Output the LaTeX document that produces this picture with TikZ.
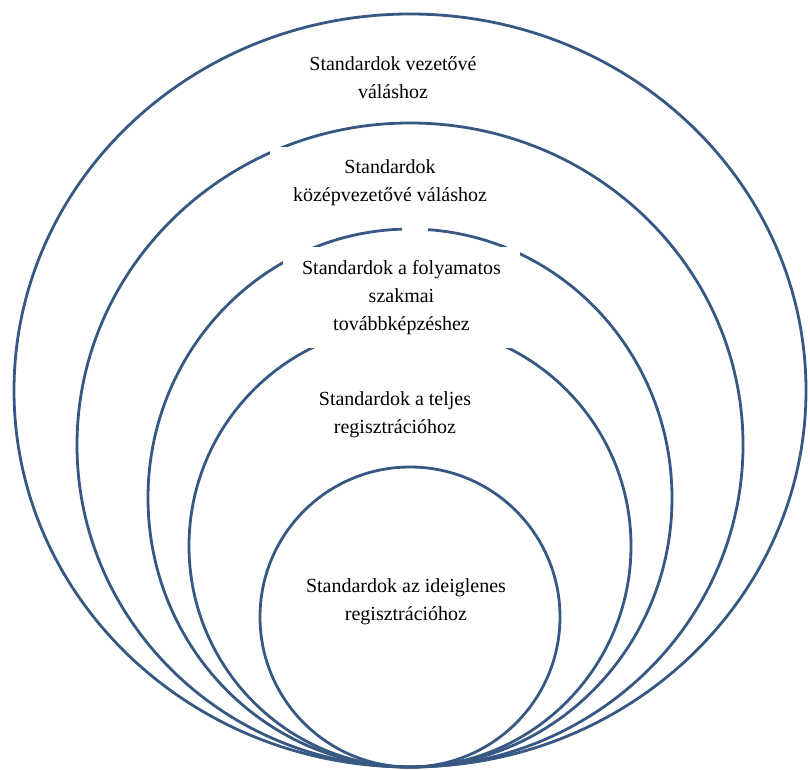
\documentclass[tikz,border=0pt]{standalone}
\usepackage{fontspec}
\setmainfont{Liberation Serif}
\usepackage{tikz}
\definecolor{ringblue}{RGB}{55,88,130}

\begin{document}
\begin{tikzpicture}[x=1pt,y=1pt,
    ring/.style={draw=ringblue, line width=2.8pt},
    lbl/.style={align=center, inner sep=0pt, font=\fontsize{20}{28}\selectfont},
    mask/.style={lbl, fill=white}]
    \useasboundingbox (0,0) rectangle (810,769);
    % nested rings, all touching at the bottom
    \draw[ring] (410,378.5) ellipse [x radius=396, y radius=376.5];
    \draw[ring] (410,324) ellipse [x radius=333, y radius=322];
    \draw[ring] (410,271) ++(91.75:262 and 269) arc [start angle=91.75, end angle=446.06, x radius=262, y radius=269];
    \draw[ring] (410,223) circle [radius=221];
    \draw[ring] (410,152) circle [radius=150];
    % labels
    \node[lbl] (vezeto) at (393,691) {Standardok vezetővé\\váláshoz};
    \node[mask, minimum width=240, minimum height=72] (kozep) at (390,586) {Standardok\\középvezetővé váláshoz};
    \node[mask, minimum width=237, minimum height=101] (tovabb) at (401.5,471.5) {Standardok a folyamatos\\szakmai\\továbbképzéshez};
    \node[lbl] (teljes) at (395,354) {Standardok a teljes\\regisztrációhoz};
    \node[lbl] (ideigl) at (406,167) {Standardok az ideiglenes\\regisztrációhoz};
\end{tikzpicture}
\end{document}
